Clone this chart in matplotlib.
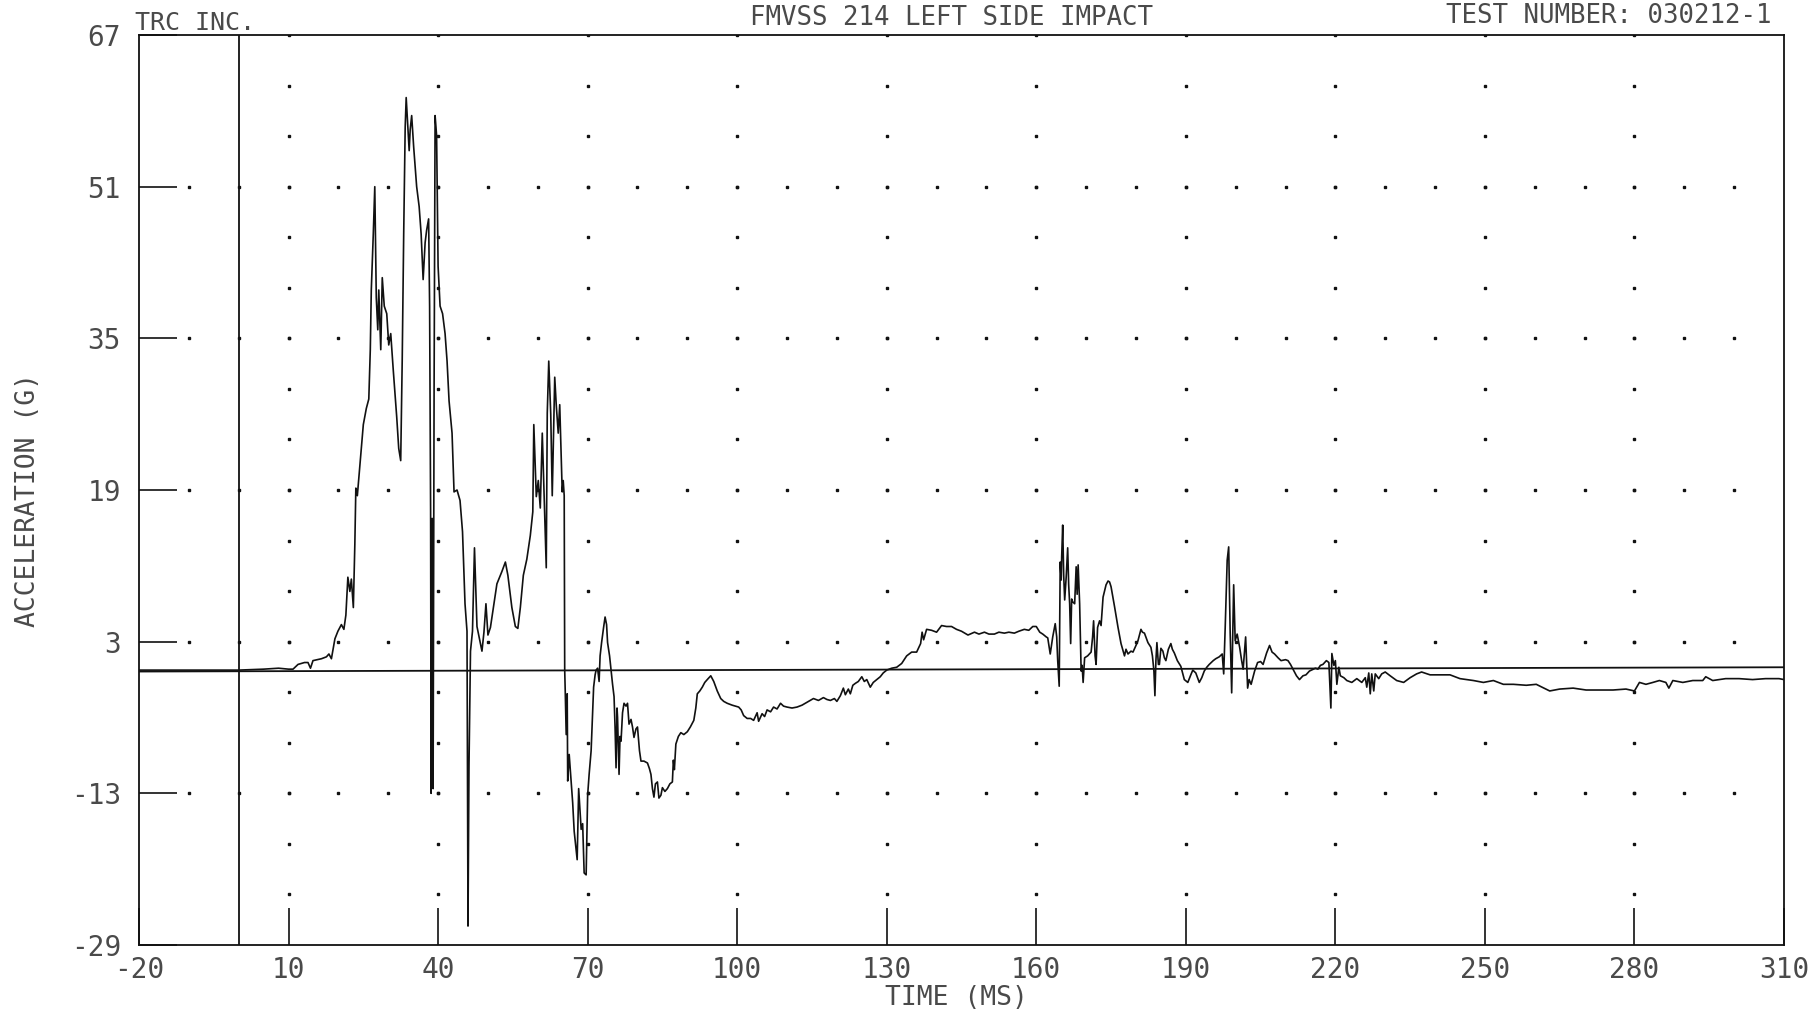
import matplotlib
matplotlib.use("Agg")
import matplotlib.pyplot as plt
import numpy as np

# trace (time in ms, acceleration in G)
time_ms = [
    -20, 0, 5, 8, 10, 10.9, 11.9, 13.2, 13.9, 14.4, 14.9, 16.6, 17.6, 18.1, 18.6,
    19.3, 19.9, 20.6, 21.1, 21.5, 21.9, 22.3, 22.6, 23.0, 23.3, 23.5, 23.8, 24.3,
    25.0, 25.6, 26.1, 26.4, 26.6, 27.0, 27.3, 27.6, 27.9, 28.1, 28.5, 28.8, 29.2,
    29.7, 30.1, 30.5, 31.0, 31.7, 32.1, 32.5, 32.8, 33.1, 33.4, 33.6, 33.9, 34.2,
    34.4, 34.7, 35.1, 35.7, 36.2, 36.6, 37.0, 37.4, 37.7, 38.1, 38.3, 38.5, 38.6,
    38.8, 39.0, 39.2, 39.4, 39.7, 40.0, 40.4, 40.9, 41.4, 41.8, 42.2, 42.8, 43.2,
    43.8, 44.4, 44.9, 45.4, 45.8, 46.0, 46.2, 46.5, 46.9, 47.3, 47.8, 48.3, 48.8,
    49.2, 49.6, 50.0, 50.5, 51.1, 51.8, 52.8, 53.5, 54.0, 54.8, 55.5, 56.0, 56.5,
    57.1, 57.8, 58.5, 59.0, 59.2, 59.7, 60.1, 60.5, 60.9, 61.3, 61.7, 61.9, 62.2,
    62.6, 62.9, 63.4, 63.7, 64.1, 64.4, 64.9, 65.1, 65.3, 65.4,
    65.5, 65.7, 65.9, 66.0, 66.3, 66.7, 67.0, 67.3, 67.6, 67.9, 68.2, 68.5, 68.7,
    69.0, 69.3, 69.7, 70.0, 70.3, 70.7, 71.2, 71.5, 71.7, 72.0, 72.3, 72.5, 72.8,
    73.2, 73.5, 73.8, 74.0, 74.4, 74.7, 75.0, 75.3, 75.5, 75.7, 75.9, 76.0, 76.3,
    76.5, 76.7, 77.0, 77.3, 77.7, 78.0, 78.3, 78.7, 79.0, 79.3, 79.7, 80.0, 80.4,
    80.7, 81.3, 82.0, 82.4, 82.7, 83.0, 83.3, 83.6, 84.0, 84.3, 84.7, 85.0, 85.5,
    86.0, 86.5, 87.0, 87.2, 87.4, 87.7, 88.2, 88.7, 89.3, 90.0, 90.6, 91.3, 91.7,
    92.0, 92.5, 93.0, 93.5, 94.0, 94.7, 95.3, 96.0, 96.7, 97.3, 98.0, 99.0, 100.3,
    100.8, 101.3, 102.0, 102.7, 103.3, 104.0, 104.3, 105.0, 105.5, 106.0, 106.7,
    107.3, 108.0, 108.7, 109.3, 110.0, 111.0, 112.0, 113.0, 114.0, 115.3, 116.3,
    117.3, 118.0, 118.7, 119.5, 120.0, 120.7, 121.3, 121.7, 122.3, 122.7, 123.2,
    123.7, 124.3, 125.0, 125.5, 126.0, 126.7, 127.3, 128.0, 128.7, 129.3, 130.0,
    131.0, 132.0, 133.0, 134.0, 135.0, 136.0, 136.8, 137.1, 137.4, 138.0, 139.0,
    140.0, 141.0, 142.0, 143.0, 144.0, 145.0, 146.3, 147.6, 148.5, 149.6, 150.5,
    151.6, 152.5, 153.6, 154.5, 155.6, 156.5, 157.6, 158.5, 159.3, 160.0, 160.7,
    161.3, 162.0, 162.3, 162.8, 163.3, 163.8, 164.1, 164.3, 164.6, 164.8, 165.0,
    165.1, 165.3, 165.5, 165.7, 166.0, 166.3, 166.5, 166.7, 166.9, 167.1, 167.3,
    167.7, 168.0, 168.2, 168.4, 168.7, 169.0, 169.2, 169.4, 169.7, 170.3, 171.0,
    171.3, 171.5, 171.8, 172.0, 172.3, 172.7, 173.0, 173.4, 174.0, 174.4, 174.7,
    175.0, 175.4, 175.7, 176.4, 177.0, 177.7, 178.0, 178.4, 179.0, 179.4, 180.0,
    180.4, 181.0, 181.3, 181.7, 182.4, 183.0, 183.3, 183.6, 183.8, 184.0, 184.2,
    184.5, 184.7, 185.0, 185.4, 185.7, 186.0, 186.5, 187.0, 187.3, 187.7, 188.3,
    189.0, 189.7, 190.4, 191.0, 191.4, 192.0, 192.7, 193.2, 193.7, 194.2, 194.7,
    195.5, 196.0, 196.7, 197.3, 197.6, 197.9, 198.3, 198.6, 198.9, 199.2, 199.6,
    199.9, 200.3, 200.8, 201.2, 201.5, 202.0, 202.4, 202.7, 203.1, 203.8, 204.4,
    205.0, 205.5, 206.2, 206.8, 207.3, 207.8, 208.5, 209.1, 210.0, 210.5, 211.0,
    211.5, 212.2, 212.8, 213.5, 214.1, 214.8, 215.2, 216.0, 216.5, 217.0, 217.5,
    218.2, 218.7, 219.1, 219.3, 219.7, 220.0, 220.3, 220.7, 221.0, 221.7, 222.3,
    223.3, 224.3, 225.3, 226.0, 226.3, 226.7, 227.0, 227.3, 227.7, 228.0, 228.7,
    229.3, 230.0, 231.0, 232.3, 233.7, 235.0, 236.3, 237.3, 239.0, 241.0, 243.0,
    245.0, 247.7, 249.7, 251.7, 253.7, 255.7, 258.3, 260.3, 263.0, 265.0, 267.7,
    270.3, 273.0, 275.7, 278.3, 280.0, 281.0, 282.3, 283.7, 285.0, 286.3, 286.9,
    287.7, 289.7, 291.7, 293.7, 294.3, 295.7, 298.3, 301.0, 303.7, 306.3, 309.0,
    310.0,
]
accel_g = [
    0, 0, 0.1, 0.2, 0.1, 0.1, 0.6, 0.8, 0.8, 0.2, 1.0, 1.2, 1.4, 1.7, 1.2,
    3.3, 4.1, 4.8, 4.3, 5.8, 9.8, 8.3, 9.6, 6.6, 13.3, 19.2, 18.4, 21.5,
    25.9, 27.6, 28.6, 33.8, 40.1, 46.0, 51.0, 39.3, 35.9, 40.1, 33.8, 41.4, 38.4,
    37.6, 34.3, 35.5, 31.7, 26.7, 23.4, 22.1, 32.6, 46.0, 57.3, 60.4, 57.7, 54.8,
    57.0, 58.5, 55.2, 51.0, 48.9, 46.0, 41.2, 45.1, 46.4, 47.6, 38.4, 16.7, -13.0,
    16.0, -12.5, 30.0, 58.5, 56.4, 42.6, 38.4, 37.6, 35.5, 32.6, 28.4, 25.0, 18.8,
    19.0, 17.9, 14.6, 7.0, 4.1, -27.0, -10.0, 2.0, 4.1, 12.9, 4.6, 3.3, 2.0,
    4.0, 7.0, 3.7, 4.5, 6.6, 9.1, 10.4, 11.4, 10.0, 6.6, 4.6, 4.4, 6.6,
    10.0, 11.7, 14.2, 16.7, 25.9, 18.3, 20.0, 17.1, 25.0, 18.0, 10.8, 27.1, 32.6,
    27.0, 18.4, 30.9, 28.0, 25.0, 28.0, 18.8, 20.0, 18.4, 0.0,
    -2.1, -6.8, -2.5, -11.7, -8.9, -11.8, -14.0, -17.0, -18.5, -20.0, -12.5, -15.0, -16.8,
    -16.2, -21.4, -21.6, -13.2, -11.0, -8.5, -1.8, -0.5, 0.0, 0.2, -1.2, 1.5, 2.9,
    4.5, 5.6, 4.8, 2.9, 1.5, 0.0, -1.5, -2.8, -6.0, -10.3, -4.0, -5.0, -11.0,
    -7.0, -7.5, -4.5, -3.5, -3.8, -3.5, -5.7, -5.2, -6.0, -7.1, -6.2, -6.0, -8.5,
    -9.6, -9.6, -9.8, -10.4, -11.0, -12.5, -13.4, -12.0, -11.8, -13.5, -13.2, -12.4, -12.8,
    -12.5, -12.0, -11.8, -9.5, -10.5, -7.8, -7.0, -6.6, -6.8, -6.5, -6.0, -5.3, -4.0,
    -2.5, -2.2, -1.8, -1.3, -1.0, -0.6, -1.2, -2.2, -3.0, -3.3, -3.5, -3.7, -3.9,
    -4.2, -4.8, -5.1, -5.1, -5.3, -4.5, -5.4, -4.6, -4.9, -4.2, -4.4,
    -3.9, -4.1, -3.5, -3.8, -3.9, -4.0, -3.9, -3.7, -3.4, -3.0, -3.2,
    -2.9, -3.1, -3.2, -3.0, -3.3, -2.7, -1.9, -2.6, -2.0, -2.5, -1.6,
    -1.4, -1.2, -0.7, -1.2, -1.0, -1.8, -1.3, -1.0, -0.7, -0.3, 0.0,
    0.2, 0.3, 0.7, 1.5, 1.9, 1.9, 2.8, 4.0, 3.2, 4.3, 4.2,
    4.0, 4.7, 4.6, 4.6, 4.3, 4.1, 3.7, 4.0, 3.8, 4.0, 3.8,
    3.8, 4.0, 3.9, 4.0, 3.9, 4.1, 4.3, 4.2, 4.6, 4.6, 4.0,
    3.8, 3.5, 3.4, 1.7, 3.5, 4.9, 3.5, 1.0, -1.7, 11.4, 9.5,
    12.0, 15.3, 10.0, 7.4, 9.8, 12.9, 9.0, 7.0, 2.8, 7.5, 7.2,
    7.0, 10.9, 8.0, 11.1, 7.0, -0.1, 0.5, -1.3, 1.3, 1.5, 1.9,
    3.5, 5.2, 1.5, 0.6, 4.5, 5.2, 4.7, 7.7, 9.0, 9.4, 9.3,
    8.8, 7.6, 6.7, 4.5, 2.8, 1.5, 2.2, 1.7, 2.0, 1.9, 2.6,
    3.1, 4.3, 4.0, 3.9, 2.9, 2.4, 1.5, -0.1, -2.7, 1.0, 2.9,
    0.6, 0.6, 2.3, 2.0, 1.3, 1.0, 2.2, 2.8, 2.2, 1.8, 1.0,
    0.4, -1.0, -1.3, -0.5, 0.0, -0.3, -1.3, -0.8, -0.1, 0.3, 0.6,
    1.0, 1.2, 1.4, 1.7, -0.4, 4.5, 11.6, 13.0, 3.9, -2.4, 9.0,
    3.1, 3.8, 2.4, 1.0, 0.1, 3.5, -1.9, -1.0, -1.5, -0.1, 0.8,
    0.9, 0.6, 1.8, 2.6, 1.9, 1.7, 1.3, 1.0, 1.1, 1.0, 0.6,
    0.1, -0.6, -1.0, -0.6, -0.5, -0.1, 0.0, 0.2, 0.1, 0.5, 0.6,
    1.0, 0.8, -4.0, 1.75, 0.5, 1.0, -1.5, 0.3, -0.6, -0.8, -1.1,
    -1.3, -0.9, -1.3, -0.8, -1.8, -0.3, -2.5, -0.4, -2.2, -0.4, -0.9,
    -0.4, -0.2, -0.6, -1.1, -1.3, -0.8, -0.4, -0.2, -0.5, -0.5, -0.5,
    -0.9, -1.1, -1.3, -1.1, -1.5, -1.5, -1.6, -1.5, -2.2, -2.0, -1.9,
    -2.1, -2.1, -2.1, -2.0, -2.2, -1.3, -1.5, -1.3, -1.1, -1.3, -1.9,
    -1.1, -1.3, -1.1, -1.1, -0.7, -1.1, -0.9, -0.9, -1.0, -0.9, -0.9,
    -1.0,
]

x_ticks = [-20, 10, 40, 70, 100, 130, 160, 190, 220, 250, 280, 310]
y_ticks = [-29, -13, 3, 19, 35, 51, 67]

W, H = 1816, 1015
fig = plt.figure(figsize=(W / 100, H / 100), dpi=100)
ax = fig.add_axes([139 / W, 1 - 945 / H, (1784 - 139) / W, (945 - 35) / H])

ink = "#111111"
txt = "#4a4a4a"
mono = "DejaVu Sans Mono"

# dotted grid: dots every 10 ms on the major rows, every 16/3 G on the major columns
gx = np.arange(-10, 310, 10)
for yv in y_ticks[1:-1]:
    ax.plot(gx, np.full(len(gx), yv), ls="none", marker="s", ms=1.8, color=ink)
gy = np.arange(-29 + 16 / 3, 67, 16 / 3)
for xv in x_ticks[1:-1]:
    ax.plot(np.full(len(gy), xv), gy, ls="none", marker="s", ms=1.8, color=ink)

# reference lines: zero line and time zero
ax.plot([-20, 310], [-0.15, 0.3], color=ink, lw=1.3)
ax.axvline(0, color=ink, lw=1.3)

ax.plot(time_ms, accel_g, color=ink, lw=1.2)

ax.set_xlim(-20, 310)
ax.set_ylim(-29, 67)
ax.set_xticks(x_ticks)
ax.set_yticks(y_ticks)
ax.set_xticklabels([str(v) for v in x_ticks], fontfamily=mono, fontsize=20, color=txt)
ax.set_yticklabels([str(v) for v in y_ticks], fontfamily=mono, fontsize=20, color=txt)
ax.tick_params(axis="both", direction="in", length=27, width=1.2, color=ink)
ax.tick_params(axis="x", pad=8)
ax.tick_params(axis="y", pad=13)
for s in ax.spines.values():
    s.set_linewidth(1.3)
    s.set_color(ink)

fig.text(135 / W, 1 - 23 / H, "TRC INC.", fontfamily=mono, fontsize=18,
         color=txt, ha="left", va="center")
fig.text(951 / W, 1 - 18 / H, "FMVSS 214 LEFT SIDE IMPACT", fontfamily=mono,
         fontsize=18.5, color=txt, ha="center", va="center")
fig.text(1772 / W, 1 - 16 / H, "TEST NUMBER: 030212-1", fontfamily=mono,
         fontsize=18.5, color=txt, ha="right", va="center")
fig.text(28 / W, 1 - 500 / H, "ACCELERATION (G)", fontfamily=mono, fontsize=19,
         color=txt, ha="center", va="center", rotation=90)
fig.text(956 / W, 1 - 998 / H, "TIME (MS)", fontfamily=mono, fontsize=19,
         color=txt, ha="center", va="center")

plt.savefig("out.png", dpi=100)
